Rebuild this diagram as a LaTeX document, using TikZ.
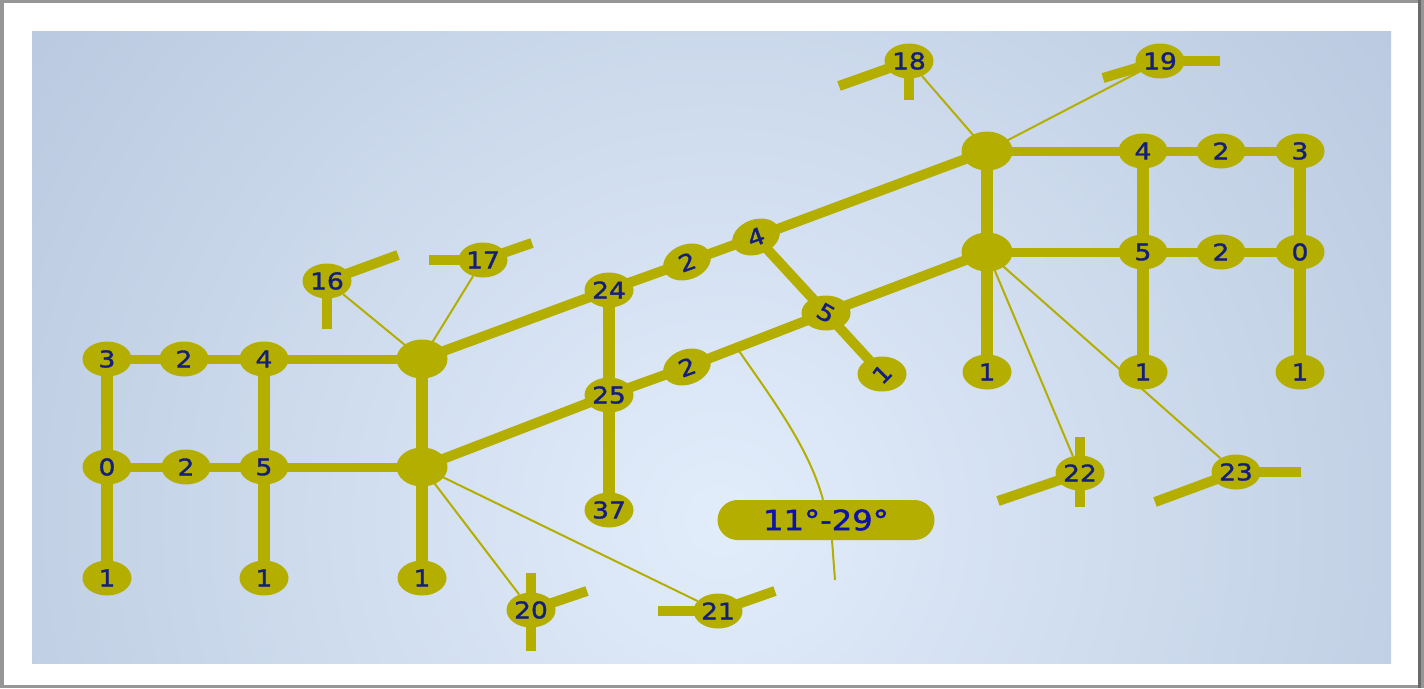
\documentclass[tikz,border=0pt]{standalone}
\usepackage{fontspec}
\newfontfamily\pipefont{DejaVu Sans}[FakeStretch=1.15,FakeBold=1.5]
\usetikzlibrary{shapes.geometric}
\definecolor{pipecol}{RGB}{180,174,0}
\definecolor{labelcol}{RGB}{20,30,125}
\definecolor{anglecol}{RGB}{12,18,170}
\definecolor{panellight}{RGB}{226,237,251}
\definecolor{paneldark}{RGB}{160,178,206}
\definecolor{framecol}{RGB}{150,150,150}
\pgfdeclarelayer{back}
\pgfdeclarelayer{pipes}
\pgfsetlayers{back,pipes,main}
\tikzset{
  joint/.style={ellipse,fill=pipecol,minimum width=49pt,minimum height=35pt,inner sep=0pt,
    text=labelcol,font=\pipefont\fontsize{23}{24}\selectfont},
  hub/.style={ellipse,fill=pipecol,minimum width=51pt,minimum height=39pt,inner sep=0pt},
  anglebox/.style={rectangle,rounded corners=20pt,fill=pipecol,minimum width=217pt,
    minimum height=40pt,text=anglecol,font=\pipefont\fontsize{28}{29}\selectfont},
  pipe/.style={draw=pipecol,line width=10pt},
  hpipe/.style={draw=pipecol,line width=9pt},
  riser/.style={draw=pipecol,line width=12pt},
  stub/.style={draw=pipecol,line width=10pt},
  tap/.style={draw=pipecol,line width=2pt}
}
\begin{document}
\begin{tikzpicture}[x=1pt,y=-1pt]
\useasboundingbox (0,0) rectangle (1424,688);
% left block
\node[joint] (a3) at (107,359) {3};
\node[joint] (a2) at (184,359) {2};
\node[joint] (a4) at (264,359) {4};
\node[hub] (ha) at (422,359) {};
\node[joint] (a0) at (107,467) {0};
\node[joint] (a2b) at (186,467) {2};
\node[joint] (a5) at (264,467) {5};
\node[hub] (hb) at (422,467) {};
\node[joint] (a1) at (107,578) {1};
\node[joint] (a1b) at (264,578) {1};
\node[joint] (a1c) at (422,578) {1};
% middle
\node[joint] (m24) at (609,290) {24};
\node[joint] (m25) at (609,395) {25};
\node[joint] (m37) at (609,510) {37};
\node[joint,rotate=20] (m2) at (687,262) {2};
\node[joint,rotate=20] (m4) at (756,237) {4};
\node[joint,rotate=20] (m2b) at (687,367) {2};
\node[joint] (m5) at (826,313) {\rotatebox{-30}{5}};
\node[joint] (m1) at (882,374) {\rotatebox{45}{1}};
% right block
\node[hub] (hc) at (987,151) {};
\node[joint] (b4) at (1143,151) {4};
\node[joint] (b2) at (1221,151) {2};
\node[joint] (b3) at (1300,151) {3};
\node[hub] (hd) at (987,252) {};
\node[joint] (b5) at (1143,252) {5};
\node[joint] (b2b) at (1221,252) {2};
\node[joint] (b0) at (1300,252) {0};
\node[joint] (b1) at (987,372) {1};
\node[joint] (b1b) at (1143,372) {1};
\node[joint] (b1c) at (1300,372) {1};
% outlets
\node[joint] (t16) at (327,281) {16};
\node[joint] (t17) at (483,260) {17};
\node[joint] (t18) at (909,61) {18};
\node[joint] (t19) at (1160,61) {19};
\node[joint] (t20) at (531,610) {20};
\node[joint] (t21) at (718,611) {21};
\node[joint] (t22) at (1080,473) {22};
\node[joint] (t23) at (1236,472) {23};
\node[anglebox] (ang) at (826,520) {11°-29°};
\coordinate (arcfoot) at (737,348);
\coordinate (arctail) at (835,580);

\begin{pgfonlayer}{back}
\fill[framecol] (0,0) rectangle (1424,688);
\fill[white] (4,3) rectangle (1418,685);
\fill[framecol!70!black] (1418,0) rectangle (1421,688);
\begin{scope}
\clip (32,31) rectangle (1391,663);
\shade[inner color=panellight,outer color=paneldark] (720,520) circle (1400);
\end{scope}
\end{pgfonlayer}

\begin{pgfonlayer}{pipes}
\draw[hpipe] (a3.center) -- (a2.center) -- (a4.center) -- (ha.center);
\draw[hpipe] (a0.center) -- (a2b.center) -- (a5.center) -- (hb.center);
\draw[riser] (a3.center) -- (a0.center) -- (a1.center);
\draw[riser] (a4.center) -- (a5.center) -- (a1b.center);
\draw[riser] (ha.center) -- (hb.center) -- (a1c.center);
\draw[pipe] (ha.center) -- (m24.center) -- (m2.center) -- (m4.center) -- (hc.center);
\draw[pipe] (hb.center) -- (m25.center) -- (m2b.center) -- (m5.center) -- (hd.center);
\draw[pipe] (m4.center) -- (m5.center) -- (m1.center);
\draw[riser] (m24.center) -- (m25.center) -- (m37.center);
\draw[hpipe] (hc.center) -- (b4.center) -- (b2.center) -- (b3.center);
\draw[hpipe] (hd.center) -- (b5.center) -- (b2b.center) -- (b0.center);
\draw[riser] (hc.center) -- (hd.center) -- (b1.center);
\draw[riser] (b4.center) -- (b5.center) -- (b1b.center);
\draw[riser] (b3.center) -- (b0.center) -- (b1c.center);
% branches to outlets
\draw[tap] (ha.center) -- (t16);
\draw[tap] (ha.center) -- (t17);
\draw[tap] (hb.center) -- (t20);
\draw[tap] (hb.center) -- (t21);
\draw[tap] (hc.center) -- (t18);
\draw[tap] (hc.center) -- (t19);
\draw[tap] (hd.center) -- (t22);
\draw[tap] (hd.center) -- (t23);
\draw[stub] (t16.center) -- ++(71,-26);
\draw[stub] (t16.center) -- ++(0,48);
\draw[stub] (t17.center) -- ++(-54,0);
\draw[stub] (t17.center) -- ++(49,-17);
\draw[stub] (t18.center) -- ++(-70,25);
\draw[stub] (t18.center) -- ++(0,39);
\draw[stub] (t19.center) -- ++(-57,17);
\draw[stub] (t19.center) -- ++(60,0);
\draw[stub] (t20.center) -- ++(0,-37);
\draw[stub] (t20.center) -- ++(0,41);
\draw[stub] (t20.center) -- ++(56,-19);
\draw[stub] (t21.center) -- ++(-60,0);
\draw[stub] (t21.center) -- ++(57,-20);
\draw[stub] (t22.center) -- ++(0,-36);
\draw[stub] (t22.center) -- ++(0,34);
\draw[stub] (t22.center) -- ++(-82,28);
\draw[stub] (t23.center) -- ++(-81,30);
\draw[stub] (t23.center) -- ++(65,0);
% angle mark
\draw[tap] (arcfoot) .. controls (770,396) and (809,447) .. ([xshift=-3pt]ang.north);
\draw[tap] ([xshift=6pt]ang.south) -- (arctail);
\end{pgfonlayer}
\end{tikzpicture}
\end{document}
